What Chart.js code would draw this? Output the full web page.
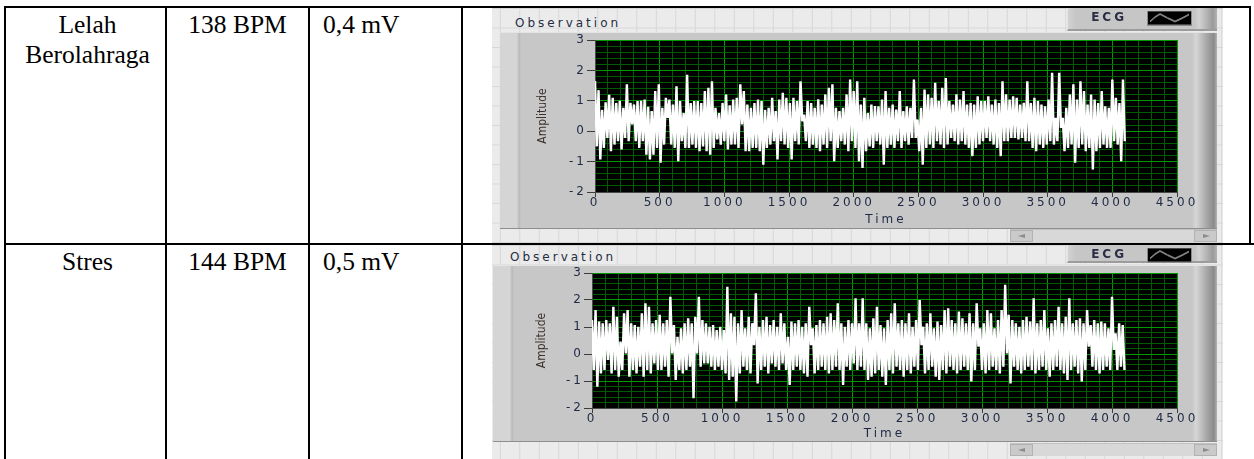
<!DOCTYPE html>
<html lang="id">
<head>
<meta charset="UTF-8">
<title>Observation ECG</title>
<script src="https://cdn.jsdelivr.net/npm/chart.js"></script>
<style>
  body { margin: 0; background: #fff; }
  #page { position: relative; width: 1254px; height: 459px; overflow: hidden; }
  .line { position: absolute; background: #000; z-index: 5; }
  .cell { position: absolute; font-family: 'Liberation Serif', 'Times New Roman', serif; font-size: 25.5px; line-height: 30px; color: #000; white-space: nowrap; }
  .panel { position: absolute; overflow: hidden; background-color: #ebebeb;
    background-image: linear-gradient(#d7d7d7 1px, transparent 1px), linear-gradient(90deg, #d7d7d7 1px, transparent 1px);
    background-size: 19.5px 19.5px; background-position: 7.8px 0; }
  .panel canvas { position: absolute; left: 0; top: 0; }
  .bezel { position: absolute; box-sizing: border-box; border-top: 1px solid #e4e4e4; border-bottom: 1px solid #8e8e8e;
    background: linear-gradient(90deg, #d5d5d5 0, #d5d5d5 17px, #b9b9b9 19px, #c7c7c7 21px, #c7c7c7 calc(100% - 25px), #d6d6d6 calc(100% - 21px), #a6a6a6 calc(100% - 10px), #8a8a8a calc(100% - 3px), #b4b4b4 100%); }
  .legbox { position: absolute; box-sizing: border-box; border-bottom: 2px solid #9c9c9c; border-left: 1px solid #e6e6e6;
    background: linear-gradient(90deg, #d2d2d2 0, #c6c6c6 8px, #c6c6c6 calc(100% - 22px), #d3d3d3 calc(100% - 18px), #9a9a9a calc(100% - 4px), #b2b2b2 100%); }
  .caption { position: absolute; font-family: 'DejaVu Sans', sans-serif; font-size: 12px; line-height: 14px; letter-spacing: 3px; color: #262b42; white-space: nowrap; }
  .scroll { position: absolute; height: 13px; background: #d8d8d8; box-sizing: border-box; border-top: 1px solid #c2c2c2; }
  .btn { position: absolute; top: 0; width: 23px; height: 12px; background: #cacaca; box-sizing: border-box; border: 1px solid #b2b2b2; }
  .arrL { position: absolute; left: 7px; top: 3px; width: 0; height: 0; border-top: 2.5px solid transparent; border-bottom: 2.5px solid transparent; border-right: 7px solid #8c8c8c; }
  .arrR { position: absolute; left: 8px; top: 3px; width: 0; height: 0; border-top: 2.5px solid transparent; border-bottom: 2.5px solid transparent; border-left: 7px solid #8c8c8c; }
</style>
</head>
<body>
<div id="page">
  <!-- table grid -->
  <div class="line" style="left:4px;top:6px;width:1247px;height:2px"></div>
  <div class="line" style="left:4px;top:6px;width:2px;height:453px"></div>
  <div class="line" style="left:165px;top:6px;width:2px;height:453px"></div>
  <div class="line" style="left:308px;top:6px;width:2px;height:453px"></div>
  <div class="line" style="left:461px;top:6px;width:2px;height:453px"></div>
  <div class="line" style="left:1249px;top:6px;width:2px;height:239px"></div>
  <div class="line" style="left:4px;top:243px;width:1250px;height:2px"></div>

  <div class="cell" style="left:6px;top:9.5px;width:163px;text-align:center">Lelah<br>Berolahraga</div>
  <div class="cell" style="left:167px;top:9.5px;width:141px;text-align:center">138 BPM</div>
  <div class="cell" style="left:323px;top:9.5px">0,4 mV</div>
  <div class="cell" style="left:6px;top:246.5px;width:163px;text-align:center">Stres</div>
  <div class="cell" style="left:167px;top:246.5px;width:141px;text-align:center">144 BPM</div>
  <div class="cell" style="left:323px;top:246.5px">0,5 mV</div>

  <!-- top graph -->
  <div class="panel" style="left:492px;top:8px;width:731px;height:235px">
    <div class="bezel" style="left:8px;top:24px;width:717px;height:197px"></div>
    <div class="legbox" style="left:575px;top:0;width:150px;height:23px"></div>
    <div class="caption" style="left:23px;top:7.6px">Observation</div>
    <div class="scroll" style="left:518px;top:221px;width:207px">
      <div class="btn" style="left:0"><div class="arrL"></div></div>
      <div class="btn" style="right:0"><div class="arrR"></div></div>
    </div>
    <canvas id="chartLelah" width="731" height="235"></canvas>
  </div>

  <!-- bottom graph -->
  <div class="panel" style="left:492px;top:245px;width:731px;height:214px">
    <div class="bezel" style="left:1px;top:20px;width:724px;height:177px"></div>
    <div class="legbox" style="left:575px;top:0;width:150px;height:18px"></div>
    <div class="caption" style="left:18px;top:4.9px">Observation</div>
    <div class="scroll" style="left:518px;top:198px;width:207px">
      <div class="btn" style="left:0"><div class="arrL"></div></div>
      <div class="btn" style="right:0"><div class="arrR"></div></div>
    </div>
    <canvas id="chartStres" width="731" height="214"></canvas>
  </div>
</div>

<script>
const timeTicks = [0, 500, 1000, 1500, 2000, 2500, 3000, 3500, 4000, 4500];
const amplitudeTicks = [-2, -1, 0, 1, 2, 3];
const sampleCount = 4096;

// upper / lower swing of each short stretch of the trace, left to right
const lelahPeaks = [
  1.65, 1.35, 0.70, 0.95, 1.20, 1.10, 0.93, 1.00, 0.77, 1.54,
  0.93, 0.88, 0.99, 1.00, 1.04, 0.80, 0.66, 1.32, 1.54, 0.77,
  1.10, 1.04, 0.88, 1.48, 0.99, 0.60, 1.86, 0.93, 0.99, 0.99,
  0.93, 1.32, 1.43, 1.64, 0.77, 0.60, 0.93, 1.21, 0.85, 1.04,
  1.10, 1.54, 1.32, 0.88, 0.77, 0.93, 1.04, 0.99, 0.70, 0.77,
  1.10, 0.66, 1.04, 1.26, 1.10, 0.93, 1.10, 0.99, 1.64, 0.55,
  0.99, 0.93, 0.77, 1.05, 0.88, 1.21, 1.43, 1.54, 0.77, 0.66,
  0.77, 1.21, 1.70, 1.32, 1.64, 0.88, 1.10, 0.60, 0.88, 0.83,
  0.82, 1.04, 1.32, 0.77, 0.88, 0.71, 1.32, 0.66, 0.82, 0.77,
  1.70, 0.38, 0.77, 1.37, 1.21, 1.10, 1.59, 0.99, 1.43, 1.75,
  0.99, 0.88, 1.21, 1.04, 1.32, 0.88, 0.93, 0.88, 1.15, 0.99,
  0.99, 1.15, 0.88, 1.04, 0.93, 1.64, 1.21, 1.04, 1.15, 1.10,
  0.88, 0.93, 1.64, 0.93, 1.10, 0.99, 0.88, 0.82, 1.04, 1.92,
  0.44, 1.92, 0.44, 0.77, 1.21, 1.54, 1.04, 1.64, 1.32, 0.88,
  1.21, 1.04, 0.93, 1.32, 0.82, 0.77, 1.70, 1.10, 0.93, 1.70
];
const lelahTroughs = [
  -0.50, -0.93, -0.55, -0.22, -0.66, -0.44, -0.33, -0.60, -0.22, -0.33,
  0.22, -0.33, -0.55, -0.33, -0.77, -0.93, -0.77, -0.55, -1.04, -0.44,
  0.44, -0.44, -0.55, -0.99, -0.33, -0.55, -0.55, -0.44, -0.55, -0.66,
  -0.50, -0.66, -0.77, -0.55, -0.27, -0.44, -0.33, -0.60, -0.44, -0.44,
  -0.55, 0.22, -0.66, -0.66, -0.55, -0.55, -0.66, -1.10, -0.55, -0.44,
  -0.33, -0.93, -0.33, -0.44, -0.55, -0.93, -0.33, -0.44, 0.33, -0.33,
  -0.55, -0.44, -0.55, -0.66, -0.44, -0.55, -0.33, -0.99, -0.55, -0.33,
  -0.44, -0.66, -0.33, -0.55, -0.99, -1.21, -0.66, -0.50, -0.55, -0.33,
  -0.44, -1.10, -0.55, -0.44, -0.55, -0.33, -0.55, -0.33, -0.44, -0.22,
  -0.22, -0.66, -1.10, -0.55, -0.44, -0.55, -0.33, -0.44, -0.55, -0.44,
  -0.22, -0.33, -0.44, -0.33, -0.44, -0.55, -0.82, -0.55, -0.44, -0.33,
  -0.22, -0.33, -0.44, -0.55, -0.82, -0.33, -0.33, -0.22, -0.22, -0.27,
  -0.22, -0.33, -0.33, -0.55, -0.66, -0.44, -0.55, -0.44, -0.33, -0.44,
  -0.33, 0.11, -0.66, -0.55, -0.44, -1.04, -0.55, -0.44, -0.66, -0.55,
  -1.26, -0.66, -0.55, -0.44, -0.55, -0.55, -0.33, -0.44, -0.99, -0.33
];
const stresPeaks = [
  1.26, 1.63, 1.20, 1.14, 1.26, 1.14, 1.75, 1.38, 0.46, 1.51,
  1.63, 1.14, 1.07, 1.01, 1.51, 1.88, 1.75, 1.14, 1.26, 1.45,
  1.14, 1.26, 2.12, 1.07, 0.64, 0.95, 1.14, 1.32, 1.14, 1.38,
  2.12, 1.26, 1.14, 1.01, 1.07, 0.89, 1.01, 0.89, 2.49, 1.51,
  1.38, 1.14, 1.63, 0.95, 1.38, 1.14, 2.25, 1.01, 1.26, 1.38,
  1.07, 1.26, 1.01, 1.51, 1.14, 0.64, 1.20, 1.14, 1.26, 1.01,
  1.14, 1.75, 0.95, 1.07, 1.26, 1.14, 1.38, 1.51, 1.26, 1.88,
  1.14, 1.01, 1.26, 1.14, 2.06, 1.14, 2.06, 1.14, 0.95, 1.32,
  1.75, 1.07, 0.95, 1.26, 1.51, 1.88, 1.14, 1.26, 1.14, 1.51,
  1.01, 1.26, 2.00, 1.01, 1.14, 1.51, 0.95, 1.20, 1.07, 1.63,
  1.69, 1.26, 1.14, 1.57, 1.32, 1.14, 1.51, 1.14, 1.88, 0.95,
  1.14, 1.63, 1.51, 0.95, 1.26, 1.63, 2.56, 1.45, 1.26, 1.14,
  1.01, 1.26, 1.38, 1.20, 2.06, 1.14, 1.26, 1.63, 0.95, 1.14,
  1.26, 1.75, 1.14, 1.38, 2.06, 1.14, 1.26, 1.32, 1.14, 1.63,
  1.07, 1.26, 1.14, 1.20, 1.14, 0.95, 2.12, 0.77, 1.14, 1.07
];
const stresTroughs = [
  -0.59, -1.21, -0.72, -0.59, -0.22, -0.72, -0.59, -0.84, -0.59, 0.02,
  -0.84, -0.59, -0.72, -0.47, -0.84, -0.59, -0.72, -0.35, -0.59, -0.59,
  -0.47, -0.84, 0.02, -0.96, -0.59, -0.72, -0.59, -0.47, -1.64, 0.02,
  -0.47, -0.35, -0.35, -0.47, -0.59, -0.47, -0.59, -0.72, -0.96, -0.84,
  -1.76, -0.72, -0.47, -0.59, -0.72, 0.33, -1.09, -0.59, -0.47, -0.72,
  -0.35, -0.47, -0.59, -0.35, -0.59, -1.15, -0.59, -0.47, -0.59, -0.72,
  -0.84, 0.33, -0.72, -0.59, -0.47, -0.59, -0.72, -0.59, -0.47, -0.59,
  -1.15, -0.47, -0.59, -0.35, -0.59, -0.47, -0.59, -0.96, -0.84, -0.72,
  -0.59, -0.84, -1.15, -0.59, -0.72, -0.47, -0.59, -0.84, -0.59, -0.72,
  -0.47, -0.59, 0.33, -0.72, -0.59, -0.47, -0.84, -0.96, -0.59, -0.72,
  -0.47, -0.59, -0.72, -0.59, -0.47, -0.59, -1.02, -0.59, 0.27, -0.59,
  -0.72, -0.59, -0.47, -0.59, -0.72, -0.47, 0.02, -1.09, -0.47, -0.59,
  -0.72, -0.59, -0.47, -0.59, -0.72, -0.59, -0.47, -0.59, -0.84, -0.59,
  -0.47, -0.59, -0.72, -0.96, -0.59, -0.47, -0.72, -1.02, -0.59, 0.27,
  -0.47, -0.59, -0.72, -0.59, -0.47, -0.59, 0.15, -0.59, -0.47, -0.59
];

const TEXT = '#1f2944';
const GREEN_MAJOR = '#009a00';
const GREEN_MINOR = '#005c00';
const TICK_FONT = { family: "'DejaVu Sans', sans-serif", size: 12, lineHeight: 1 };

const isOn = (list, v) => list.some(t => Math.abs(t - v) < 1e-6);

// interleave swings into one trace, samples evenly spaced over the record
function toWaveform(peaks, troughs) {
  const values = [];
  peaks.forEach((p, i) => values.push(p, troughs[i]));
  const dt = sampleCount / (values.length - 1);
  return values.map((v, k) => ({ x: k * dt, y: v }));
}

function makeEcgIcon() {
  const c = document.createElement('canvas');
  c.width = 45;
  c.height = 15;
  const g = c.getContext('2d');
  g.fillStyle = '#000';
  g.fillRect(0, 0, 45, 15);
  g.strokeStyle = '#8a8a8a';
  g.strokeRect(0.5, 0.5, 44, 14);
  g.strokeStyle = '#fff';
  g.lineWidth = 1;
  g.beginPath();
  g.moveTo(3, 11);
  g.quadraticCurveTo(8, 6, 13, 3.5);
  g.quadraticCurveTo(21, 8, 28, 11);
  g.quadraticCurveTo(35, 8, 42, 4);
  g.stroke();
  return c;
}
const ecgIcon = makeEcgIcon();

// black plot, wide LabVIEW-style lettering for ticks and legend, plain for the rotated title
const labviewLook = {
  id: 'labviewLook',
  beforeLayout(chart) { chart.ctx.letterSpacing = '3px'; },
  beforeDraw(chart) {
    const { ctx, chartArea: a } = chart;
    ctx.letterSpacing = '3px';
    ctx.save();
    ctx.fillStyle = '#000';
    ctx.fillRect(a.left, a.top, a.right - a.left, a.bottom - a.top);
    ctx.restore();
  },
  afterDatasetsDraw(chart) { chart.ctx.letterSpacing = '0px'; }
};

function makeChart(id, waveform, box) {
  return new Chart(document.getElementById(id), {
    type: 'line',
    data: {
      datasets: [{
        label: 'ECG',
        data: waveform,
        borderColor: '#ffffff',
        borderWidth: 2.4,
        borderJoinStyle: 'bevel',
        pointRadius: 0,
        tension: 0,
        xAxisID: 'x',
        yAxisID: 'y'
      }]
    },
    options: {
      responsive: false,
      animation: false,
      events: [],
      layout: { padding: { left: box.padLeft, right: 13, top: 0, bottom: box.padBottom } },
      plugins: {
        tooltip: { enabled: false },
        legend: {
          position: 'top',
          align: 'start',
          rtl: true,
          labels: {
            usePointStyle: true,
            pointStyle: ecgIcon,
            pointStyleWidth: 73,
            padding: 4,
            color: '#2a2c44',
            font: { family: "'DejaVu Sans', sans-serif", size: 12, weight: 'bold' }
          }
        }
      },
      scales: {
        x: {
          type: 'linear',
          position: 'bottom',
          min: timeTicks[0],
          max: timeTicks[timeTicks.length - 1],
          afterFit: s => { s.height = box.xHeight; },
          ticks: {
            stepSize: 100,
            autoSkip: false,
            maxRotation: 0,
            minRotation: 0,
            padding: 0,
            color: TEXT,
            font: TICK_FONT,
            callback: v => isOn(timeTicks, v) ? String(v) : ''
          },
          grid: {
            color: c => c.tick && isOn(timeTicks, c.tick.value) ? GREEN_MAJOR : GREEN_MINOR,
            tickLength: 5,
            tickColor: c => c.tick && isOn(timeTicks, c.tick.value) ? '#3c3c3c' : 'rgba(0,0,0,0)'
          },
          border: { color: '#4a4a4a' },
          title: {
            display: true,
            text: 'Time',
            color: TEXT,
            padding: 0,
            font: { family: "'DejaVu Sans', sans-serif", size: 12, lineHeight: 1.2 }
          }
        },
        y: {
          type: 'linear',
          position: 'left',
          weight: 0,
          min: amplitudeTicks[0],
          max: amplitudeTicks[amplitudeTicks.length - 1],
          afterFit: s => { s.width = box.axisWidth; },
          ticks: {
            stepSize: 0.2,
            autoSkip: false,
            padding: 0,
            color: TEXT,
            font: TICK_FONT,
            callback: v => isOn(amplitudeTicks, v) ? String(Math.round(v)) : ''
          },
          grid: {
            color: c => c.tick && isOn(amplitudeTicks, c.tick.value) ? GREEN_MAJOR : GREEN_MINOR,
            tickLength: 8,
            tickColor: c => c.tick && isOn(amplitudeTicks, c.tick.value) ? '#3c3c3c' : 'rgba(0,0,0,0)'
          },
          border: { color: '#4a4a4a' }
        },
        yTitle: {
          type: 'linear',
          position: 'left',
          weight: 1,
          afterFit: s => { s.width = 16; },
          ticks: { display: false, z: 1 },
          grid: { display: false, z: 1 },
          border: { display: false, z: 1 },
          title: {
            display: true,
            text: 'Amplitude',
            color: '#3a302c',
            padding: 0,
            font: { family: "'Liberation Sans Narrow', 'DejaVu Sans Condensed', 'Arial Narrow', sans-serif", size: 12, lineHeight: 1.2 }
          }
        },
        xTop: {
          type: 'linear',
          position: 'top',
          afterFit: s => { s.height = box.topGap; },
          ticks: { display: false },
          grid: { display: false },
          border: { display: false }
        },
        yR: {
          type: 'linear',
          position: 'right',
          afterFit: s => { s.width = 33; },
          ticks: { display: false },
          grid: { display: false },
          border: { display: false }
        }
      }
    },
    plugins: [labviewLook]
  });
}

makeChart('chartLelah', toWaveform(lelahPeaks, lelahTroughs),
  { padLeft: 44, padBottom: 16, axisWidth: 43, topGap: 6, xHeight: 35 });
makeChart('chartStres', toWaveform(stresPeaks, stresTroughs),
  { padLeft: 43, padBottom: 18, axisWidth: 41, topGap: 2, xHeight: 33 });
</script>
</body>
</html>
